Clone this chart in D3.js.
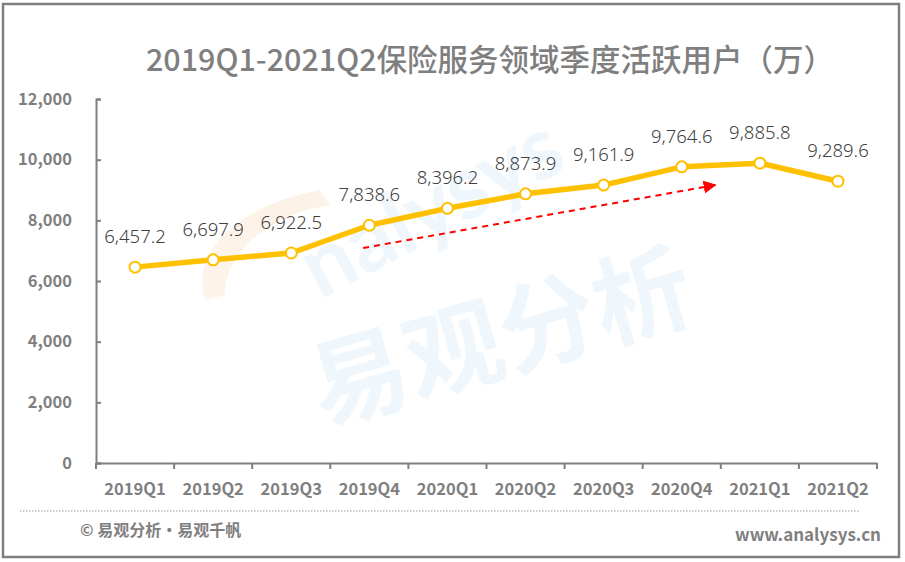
<!DOCTYPE html>
<html><head><meta charset="utf-8">
<script src="https://cdn.jsdelivr.net/npm/d3@7"></script>
<style>html,body{margin:0;padding:0;background:#fff;}svg{display:block;}</style>
</head><body>
<svg id="c" width="905" height="562"></svg>
<script>
const categories = ["2019Q1","2019Q2","2019Q3","2019Q4","2020Q1","2020Q2","2020Q3","2020Q4","2021Q1","2021Q2"];
const values = [6457.2,6697.9,6922.5,7838.6,8396.2,8873.9,9161.9,9764.6,9885.8,9289.6];
const yTicks = [0,2000,4000,6000,8000,10000,12000];
const title = "2019Q1-2021Q2保险服务领域季度活跃用户（万）";

const svg = d3.select("#c");
const font = "'Noto Sans CJK SC','Noto Sans',sans-serif";
const gray = "#7f7f7f";

svg.append("rect").attr("x",3).attr("y",4).attr("width",896).attr("height",553)
  .attr("fill","#fff").attr("stroke",gray).attr("stroke-width",2.5);

// watermark
const wm = svg.append("g").attr("opacity",0.55);
wm.append("path").attr("d","M205,300 C190,250 240,205 320,190 L330,205 C270,215 225,250 225,295 Z").attr("fill","#fde9d6");
wm.append("text").attr("x",320).attr("y",300).attr("transform","rotate(-28,320,300)")
  .attr("font-family","Lato,'Noto Sans',sans-serif").attr("font-weight",700).attr("font-size",88)
  .attr("fill","#e3f1fb").text("nalysys");
wm.append("text").attr("x",322).attr("y",425).attr("transform","rotate(-16,322,425)")
  .attr("font-family",font).attr("font-weight",700).attr("font-size",98)
  .attr("fill","#e3f1fb").text("易观分析");

const x = d3.scaleBand().domain(categories).range([96,877]);
const y = d3.scaleLinear().domain([0,12000]).range([463,99]);

svg.append("text").attr("x",490).attr("y",71).attr("text-anchor","middle")
  .attr("font-family",font).attr("font-weight",500).attr("font-size",30.5).attr("fill",gray).text(title);

// y axis
const ya = svg.append("g").attr("transform","translate(96,0)")
  .call(d3.axisLeft(y).tickValues(yTicks).tickSize(-5).tickPadding(24).tickFormat(d3.format(",")));
ya.select(".domain").attr("stroke",gray).attr("stroke-width",2);
ya.selectAll(".tick line").attr("stroke",gray).attr("stroke-width",2);
ya.selectAll(".tick text").attr("fill",gray).attr("font-family",font).attr("font-weight",700).attr("font-size",16.5);

// x axis
const xa = svg.append("g").attr("transform","translate(0,463)")
  .call(d3.axisBottom(x).tickSize(0).tickPadding(20).tickSizeOuter(0));
xa.select(".domain").attr("stroke",gray).attr("stroke-width",2);
xa.selectAll(".tick text").attr("fill",gray).attr("font-family",font).attr("font-weight",700).attr("font-size",16.5);
const bounds = categories.map(c => x(c)).concat([x.range()[1]]);
svg.append("g").selectAll("line").data(bounds).join("line")
  .attr("x1",d=>d).attr("x2",d=>d).attr("y1",463).attr("y2",469)
  .attr("stroke",gray).attr("stroke-width",2);

// trend arrow
svg.append("defs").append("marker").attr("id","ah").attr("viewBox","0 0 10 10")
  .attr("refX",9).attr("refY",5).attr("markerWidth",6.5).attr("markerHeight",6.5).attr("orient","auto")
  .append("path").attr("d","M0,0 L10,5 L0,10 Z").attr("fill","#ff0000");
svg.append("line").attr("x1",x(categories[3])+x.bandwidth()*0.42).attr("y1",248)
  .attr("x2",x(categories[7])+x.bandwidth()*0.93).attr("y2",185)
  .attr("stroke","#ff0000").attr("stroke-width",2).attr("stroke-dasharray","6,5")
  .attr("marker-end","url(#ah)");

// line
const cx = d => x(d) + x.bandwidth()/2;
const data = categories.map((c,i)=>({c,v:values[i]}));
svg.append("path").datum(data)
  .attr("d", d3.line().x(d=>cx(d.c)).y(d=>y(d.v)))
  .attr("fill","none").attr("stroke","#ffc000").attr("stroke-width",5.5).attr("stroke-linejoin","round");
svg.append("g").selectAll("circle").data(data).join("circle")
  .attr("cx",d=>cx(d.c)).attr("cy",d=>y(d.v)).attr("r",5.5)
  .attr("fill","#fff").attr("stroke","#ffc000").attr("stroke-width",2);
svg.append("g").selectAll("text").data(data).join("text")
  .attr("x",d=>cx(d.c)).attr("y",d=>y(d.v)-24).attr("text-anchor","middle")
  .attr("font-family","'Noto Sans','Noto Sans CJK SC',sans-serif").attr("font-weight",300).attr("font-size",18.5)
  .attr("fill","#404040").text(d=>d3.format(",.1f")(d.v));

// footer
svg.append("line").attr("x1",20).attr("x2",860).attr("y1",511).attr("y2",511)
  .attr("stroke","#9a9a9a").attr("stroke-width",1.2).attr("stroke-dasharray","1.5,1.5");
svg.append("text").attr("x",80).attr("y",536).attr("font-family",font).attr("font-weight",700)
  .attr("font-size",16).attr("fill",gray).text("© 易观分析·易观千帆");
svg.append("text").attr("x",881).attr("y",541).attr("text-anchor","end").attr("font-family",font).attr("font-weight",700)
  .attr("font-size",17).attr("fill",gray).text("www.analysys.cn");
</script>
</body></html>
